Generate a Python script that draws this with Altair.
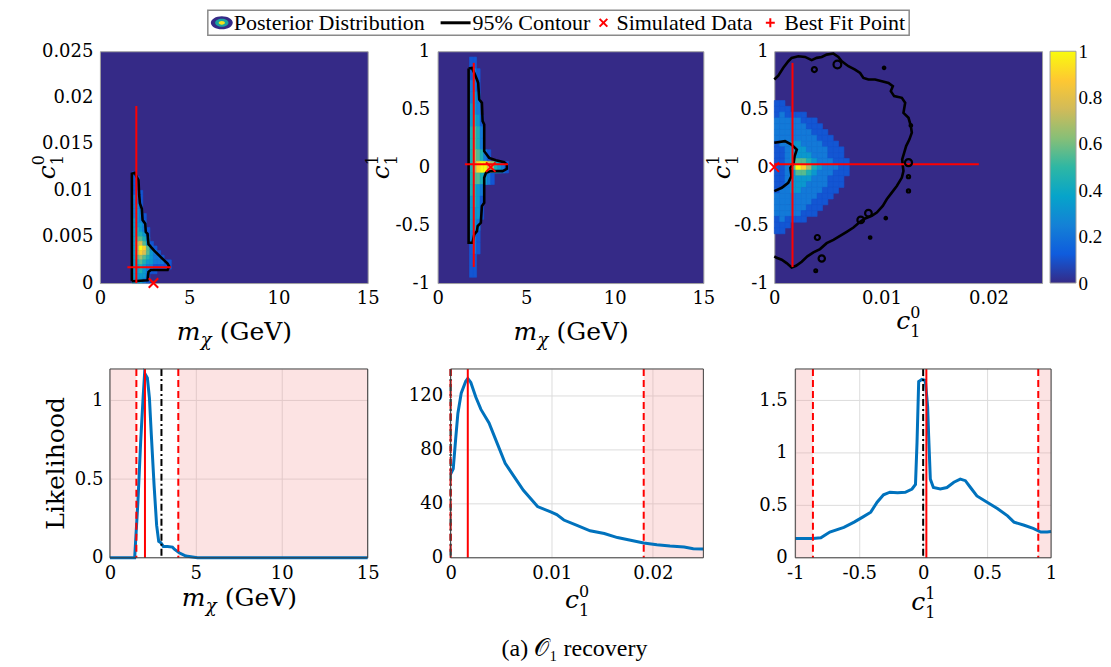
import altair as alt
import pandas as pd

FONT = "DejaVu Serif"
LFONT = "Liberation Serif"
TXT = "#000000"
PARULA = ["#352a87", "#0f5cdd", "#1481d6", "#06a4ca", "#2eb7a4",
          "#87bf77", "#d1bb59", "#fec832", "#f9fb0e"]
PSTOPS = [0.0, 0.125, 0.25, 0.375, 0.5, 0.625, 0.75, 0.875, 1.0]
RED = "#ff0000"
BLUE = "#0072bd"
PINK = "#f39a9a"

# ---------------- values ----------------
M_BEST, M_LO, M_HI, M_TRUE = 2.04, 1.54, 3.98, 3.0
C0_BEST, C0_LO, C0_HI, C0_TRUE = 0.0017, 0.0, 0.0191, 0.0
C1_BEST, C1_LO, C1_HI, C1_TRUE = 0.025, -0.862, 0.9, 0.0

M_DOMAIN = [0, 15]
C0_DOMAIN = [0, 0.025]
C1_DOMAIN = [-1, 1]
M_TICKS = [0, 5, 10, 15]
C0_TICKS_Y = [0, 0.005, 0.01, 0.015, 0.02, 0.025]
C0_TICKS_X = [0, 0.01, 0.02]
C1_TICKS = [-1, -0.5, 0, 0.5, 1]
CB_TICKS = [0, 0.2, 0.4, 0.6, 0.8, 1]
LM_TICKS = [0, 0.5, 1]
LC0_TICKS = [0, 40, 80, 120]
LC1_TICKS = [0, 0.5, 1, 1.5]
LM_MAX, LC0_MAX, LC1_MAX = 1.2, 140, 1.8

# posterior maps, digit d = density d/9 (rows top -> bottom)
HM1_X0, HM1_DX, HM1_YTOP, HM1_DY = 1.8, 0.2, 0.012, 0.0005
HM1 = ["10000000000", "11000000000", "11000000000", "11000000000",
       "12100000000", "22100000000", "22100000000", "23100000000",
       "23200000000", "23210000000", "33210000000", "33320000000",
       "34321000000", "34431000000", "35542000000", "36753100000",
       "36985210000", "36875321000", "35654322100", "34543322211",
       "33432211111", "33432110000", "33331000000", "33321000000"]
HM2_X0, HM2_DX, HM2_YTOP, HM2_DY = 1.8, 0.2, 0.95, 0.1
HM2 = ["11000000000", "12100000000", "22100000000", "23200000000",
       "33200000000", "34310000000", "45420000000", "45420000000",
       "46542100000", "46899764321", "45543210000", "44320000000",
       "34310000000", "33310000000", "33200000000", "22100000000",
       "12100000000", "11000000000", "11000000000"]
HM3_X0, HM3_DX, HM3_YTOP, HM3_DY = 0.0, 0.0005, 0.575, 0.05
HM3 = ["11000000000000", "11100000000000", "12111100000000", "22222111000000",
       "22222211100000", "22222221110000", "22222222111000", "12233222211100",
       "11233322221110", "11233332221110", "11235543222111", "11259864322211",
       "11235543222111", "11233332221110", "11233322221110", "12233222211100",
       "22222222111000", "22222221110000", "22222211100000", "22222111000000",
       "12111100000000", "11100000000000", "11000000000000"]

# 95% contours
CT1_M = [1.79, 1.79, 1.95, 2.05, 2.16, 2.2, 2.24, 2.35, 2.39, 2.54, 2.57, 2.67,
         2.72, 3.04, 3.41, 3.79, 3.88, 3.79, 2.85, 2.72, 2.67, 1.83, 1.79]
CT1_C0 = [0.0002, 0.0118, 0.0119, 0.0115, 0.0111, 0.0095, 0.0086, 0.008, 0.0068,
          0.0064, 0.0055, 0.0053, 0.0042, 0.0035, 0.0028, 0.0021, 0.0018, 0.0014,
          0.0014, 0.0012, 0.0003, 0.0002, 0.0002]
CT2_M = [1.75, 1.94, 2.07, 2.22, 2.29, 2.35, 2.5, 2.54, 2.63, 2.63, 2.91, 3.29, 3.76,
         3.91, 3.91, 3.67, 3.0, 2.73, 2.63, 2.63, 2.5, 2.44, 2.26, 2.22, 2.07, 1.97,
         1.75, 1.75]
CT2_C1 = [0.851, 0.856, 0.813, 0.756, 0.727, 0.583, 0.555, 0.397, 0.368, 0.138, 0.08,
          0.06, 0.043, 0.023, -0.014, -0.034, -0.034, -0.049, -0.092, -0.307, -0.336,
          -0.48, -0.509, -0.552, -0.58, -0.652, -0.652, 0.851]
CT3_C0 = [0, 0.00037, 0.00084, 0.00131, 0.00162, 0.00224, 0.00287, 0.00349, 0.00396,
          0.00443, 0.00489, 0.00552, 0.00598, 0.0063, 0.00692, 0.00754, 0.00801,
          0.00832, 0.00879, 0.00941, 0.01004, 0.01066, 0.01107, 0.01088, 0.01119,
          0.01191, 0.01222, 0.01206, 0.01253, 0.01275, 0.01284, 0.01262, 0.01231,
          0.01213, 0.01194, 0.012, 0.01206, 0.01191, 0.01144, 0.01097, 0.0105,
          0.01013, 0.00957, 0.0091, 0.00848, 0.00801, 0.00739, 0.00676, 0.00614,
          0.00552, 0.00489, 0.00427, 0.00365, 0.00309, 0.00256, 0.00203, 0.00162,
          0.00115, 0.00069, 0.00022, 0]
CT3_C1 = [0.756, 0.79, 0.857, 0.914, 0.943, 0.957, 0.951, 0.923, 0.943, 0.951, 0.971,
          0.98, 0.951, 0.914, 0.871, 0.842, 0.813, 0.77, 0.756, 0.756, 0.742, 0.727,
          0.699, 0.656, 0.613, 0.598, 0.555, 0.469, 0.426, 0.354, 0.297, 0.24, 0.182,
          0.125, 0.067, 0.01, -0.033, -0.09, -0.162, -0.22, -0.277, -0.334, -0.392,
          -0.42, -0.443, -0.472, -0.521, -0.558, -0.593, -0.627, -0.656, -0.707,
          -0.736, -0.77, -0.816, -0.851, -0.865, -0.828, -0.799, -0.782, -0.77]
CT3B_C0 = [0.0, 0.001, 0.0016, 0.0021, 0.0019, 0.0018, 0.0015, 0.0016, 0.0013,
           0.0007, 0.0]
CT3B_C1 = [0.21, 0.224, 0.195, 0.152, 0.095, 0.037, -0.006, -0.078, -0.135,
           -0.178, -0.207]
ISL_C0 = [0.00374, 0.00589, 0.01025, 0.01275, 0.01253, 0.01253, 0.01253, 0.00807,
          0.00879, 0.01041, 0.00895, 0.00402, 0.00443, 0.00387]
ISL_C1 = [0.842, 0.885, 0.857, 0.36, 0.039, -0.082, -0.205, -0.455, -0.397, -0.44,
          -0.607, -0.607, -0.788, -0.894]
ISL_S = [25, 60, 6, 6, 50, 10, 10, 45, 45, 6, 6, 25, 40, 8]

# 1-D likelihoods
LM_X = [0, 1.44, 1.63, 1.79, 1.93, 2.02, 2.18, 2.3, 2.41, 2.57, 2.72, 2.84, 2.96,
        3.11, 3.35, 3.64, 3.77, 4.03, 4.42, 5.1, 15]
LM_Y = [0, 0, 0.355, 0.738, 1.015, 1.174, 1.143, 1.015, 0.781, 0.462, 0.206, 0.104,
        0.096, 0.072, 0.072, 0.068, 0.053, 0.032, 0.011, 0, 0]
LC0_X = [0, 0.00026, 0.0005, 0.00072, 0.00105, 0.0015, 0.0017, 0.002, 0.0025, 0.003,
         0.0038, 0.0046, 0.0054, 0.0063, 0.0072, 0.0086, 0.0099, 0.0105, 0.0112,
         0.0125, 0.0138, 0.0152, 0.0165, 0.0178, 0.0191, 0.0204, 0.0217, 0.0231,
         0.024, 0.025]
LC0_Y = [62, 66, 88, 107, 122, 131, 133, 130, 119, 110, 100, 85, 70, 60, 50, 38, 34,
         32, 28, 24, 20, 18, 15, 13, 11, 9.7, 8.7, 8, 6.7, 6.5]
LC1_X = [-1, -0.862, -0.8, -0.73, -0.62, -0.54, -0.47, -0.41, -0.36, -0.31, -0.26,
         -0.2, -0.14, -0.087, -0.06, -0.048, -0.035, -0.01, 0.017, 0.035, 0.043, 0.056,
         0.08, 0.134, 0.186, 0.24, 0.29, 0.33, 0.37, 0.42, 0.5, 0.58, 0.66, 0.71, 0.79,
         0.86, 0.92, 0.97, 1]
LC1_Y = [0.183, 0.183, 0.19, 0.246, 0.29, 0.34, 0.39, 0.435, 0.53, 0.6, 0.625, 0.62,
         0.625, 0.656, 0.7, 1.1, 1.68, 1.7, 1.69, 1.44, 1.16, 0.75, 0.67, 0.656, 0.67,
         0.72, 0.75, 0.735, 0.67, 0.59, 0.53, 0.47, 0.4, 0.34, 0.31, 0.28, 0.246, 0.246,
         0.25]

LEGEND_LABELS = ["Posterior Distribution", "95% Contour", "Simulated Data", "Best Fit Point"]
CAPTION = "(a)  \U0001D4AA\u2081 recovery"

# ---------------- helpers ----------------
LBL = "datum.value < 0 ? '-' + format(-datum.value, '~g') : format(datum.value, '~g')"
XPATH = "M-1,-1L1,1M-1,1L1,-1"
PPATH = "M-1,0L1,0M0,-1L0,1"
ELL = "M-1,0A1,0.6,0,1,1,1,0A1,0.6,0,1,1,-1,0Z"
CSCALE = alt.Scale(domain=PSTOPS, range=PARULA, interpolate="rgb", clamp=True)
ONE = pd.DataFrame({"a": [0]})


def axis(values, grid=False, lpad=7, orient=None, offset=None, font=FONT, size=18):
    kw = dict(title="", values=values, grid=grid, ticks=False, domain=False,
              labelFont=font, labelFontSize=size, labelColor=TXT, labelPadding=lpad,
              labelExpr=LBL, labelFlush=False, labelOverlap=False)
    if grid:
        kw.update(gridColor="#dcdcdc", gridWidth=1)
    if orient is not None:
        kw["orient"] = orient
    if offset is not None:
        kw["offset"] = offset
    return alt.Axis(**kw)


def X(field, dom, ax, rng=None):
    sc = alt.Scale(domain=dom, nice=False, zero=False) if rng is None else \
        alt.Scale(domain=dom, nice=False, zero=False, range=rng)
    return alt.X(field, type="quantitative", scale=sc, axis=ax)


def Y(field, dom, ax):
    return alt.Y(field, type="quantitative", scale=alt.Scale(domain=dom, nice=False, zero=False), axis=ax)


def cells(rows, x0, dx, ytop, dy):
    recs = []
    for i, row in enumerate(rows):
        for j, ch in enumerate(row):
            d = int(ch)
            if d > 0:
                recs.append(dict(x=x0 + j * dx, x2=x0 + (j + 1) * dx,
                                 y=ytop - (i + 1) * dy, y2=ytop - i * dy, v=d / 9))
    return pd.DataFrame(recs)


def poly(xs, ys, g=0):
    return pd.DataFrame({"x": xs, "y": ys, "i": list(range(len(xs))), "g": [g] * len(xs)})


def tmark(s, x, y, size, italic=False, angle=0, align="left", font=FONT, baseline="alphabetic"):
    kw = dict(text=s, font=font, fontSize=size, align=align, baseline=baseline, color=TXT)
    if italic:
        kw["fontStyle"] = "italic"
    if angle:
        kw["angle"] = angle
    return alt.Chart(ONE).mark_text(**kw).encode(x=alt.value(x), y=alt.value(y))


def m_title(cx, y, size=25):
    x0 = cx - 57
    return [tmark("m", x0, y, size, italic=True),
            tmark("\u03c7", x0 + 24, y + 6, 18, italic=True),
            tmark("(GeV)", x0 + 43, y, size)]


def c_title(k, x, y, rot=False, size=25, ss=16):
    if not rot:
        return [tmark("c", x, y, size, italic=True),
                tmark(k, x + 14, y - 11, ss),
                tmark("1", x + 14, y + 8, ss)]
    return [tmark("c", x, y, size, italic=True, angle=270),
            tmark(k, x - 11, y - 14, ss, angle=270),
            tmark("1", x + 8, y - 14, ss, angle=270)]


GRAD = alt.Gradient(gradient="linear",
                    stops=[alt.GradientStop(color=c, offset=o) for c, o in zip(PARULA, PSTOPS)],
                    x1=0, x2=0, y1=1, y2=0)


def heat_panel(hm, ctr, xdom, ydom, xax, yax, best, xint, yint, truth, w, h, extra=(), cbar=False):
    bx, by = best
    df = cells(*hm)
    layers = [
        alt.Chart(df).mark_rect(strokeWidth=0.6).encode(
            x=X("x", xdom, xax), x2="x2", y=Y("y", ydom, yax), y2="y2",
            color=alt.Color("v:Q", scale=CSCALE, legend=None),
            stroke=alt.Color("v:Q", scale=CSCALE, legend=None)),
        alt.Chart(ctr).mark_line(color="black", strokeWidth=2.6).encode(
            x=X("x", xdom, xax), y=Y("y", ydom, yax), order="i:Q", detail="g:N"),
        alt.Chart(pd.DataFrame({"x": [bx], "y": [yint[0]], "y2": [yint[1]]})).mark_rule(
            color=RED, strokeWidth=2).encode(x=X("x", xdom, xax), y=Y("y", ydom, yax), y2="y2"),
        alt.Chart(pd.DataFrame({"y": [by], "x": [xint[0]], "x2": [xint[1]]})).mark_rule(
            color=RED, strokeWidth=2).encode(x=X("x", xdom, xax), x2="x2", y=Y("y", ydom, yax)),
        alt.Chart(pd.DataFrame({"x": [truth[0]], "y": [truth[1]]})).mark_point(
            shape=XPATH, color=RED, size=90, strokeWidth=2, filled=False, opacity=1).encode(
            x=X("x", xdom, xax), y=Y("y", ydom, yax)),
    ]
    layers += list(extra)
    ch = alt.layer(*layers)
    if cbar:
        cb = alt.Chart(pd.DataFrame({"lo": [0.0], "hi": [1.0]})).mark_rect(
            fill=GRAD, stroke="#a0a0a0", strokeWidth=1).encode(
            x=alt.value(w + 8), x2=alt.value(w + 34),
            y=alt.Y("lo:Q", scale=alt.Scale(domain=[0, 1], nice=False),
                    axis=axis(CB_TICKS, lpad=2, orient="right", offset=34, font=LFONT, size=19)),
            y2="hi")
        ch = alt.layer(ch, cb).resolve_scale(y="independent")
    return ch.properties(
        width=w, height=h,
        view=alt.ViewBackground(fill=PARULA[0], stroke="#a0a0a0", strokeWidth=1))


def like_panel(xs, ys, xdom, ydom, xticks, yticks, ylpad, shades, lo, hi, best, truth,
               off, w, h, extra=()):
    rng = [off, w]
    xax = axis(xticks, grid=True, lpad=7)
    yax = axis(yticks, grid=False, lpad=ylpad, offset=-off)
    sh = pd.DataFrame({"x": [s[0] for s in shades], "x2": [s[1] for s in shades]})
    layers = [
        alt.Chart(pd.DataFrame({"y": yticks})).mark_rule(color="#dcdcdc", strokeWidth=1).encode(
            y=Y("y", ydom, yax), x=alt.value(off), x2=alt.value(w)),
        alt.Chart(sh).mark_rect(color=PINK, opacity=0.28).encode(
            x=X("x", xdom, xax, rng), x2="x2"),
        alt.Chart(pd.DataFrame({"x": xs, "y": ys})).mark_line(
            color=BLUE, strokeWidth=3).encode(x=X("x", xdom, xax, rng), y=Y("y", ydom, yax)),
        alt.Chart(pd.DataFrame({"x": [truth]})).mark_rule(
            color="black", strokeWidth=2, strokeDash=[7, 3, 2, 3]).encode(x=X("x", xdom, xax, rng)),
        alt.Chart(pd.DataFrame({"x": [lo, hi]})).mark_rule(
            color=RED, strokeWidth=2, strokeDash=[7, 4]).encode(x=X("x", xdom, xax, rng)),
        alt.Chart(pd.DataFrame({"x": [best]})).mark_rule(
            color=RED, strokeWidth=2).encode(x=X("x", xdom, xax, rng)),
        alt.Chart(ONE).mark_rect(fillOpacity=0, stroke="#3c3c3c", strokeWidth=1).encode(
            x=alt.value(off), x2=alt.value(w), y=alt.value(0), y2=alt.value(h)),
    ]
    layers += list(extra)
    return alt.layer(*layers).properties(width=w, height=h)


def spacer(w, h):
    return alt.Chart(ONE).mark_point(opacity=0, size=1).encode(
        x=alt.value(0), y=alt.value(0)).properties(width=w, height=h)


def sym(shape, x, y, size, color, filled=False, sw=2):
    return alt.Chart(ONE).mark_point(shape=shape, size=size, color=color, filled=filled,
                                     strokeWidth=sw, opacity=1).encode(
        x=alt.value(x), y=alt.value(y))


# ---------------- layout (page pixels) ----------------
W1, W2, W3, H1 = 268, 266, 268, 232
H2 = 189
P1X, P1Y = 99, 49
P2X, P2Y = 437, 49
P5X, P5Y = 437, 367
OFF4, OFF5, OFF6 = 10, 13, 21       # bottom panels start this far right of the top ones
W4, W5, W6 = 268, 266, 277          # cell widths of bottom panels (plot = OFF..W)

LT, LB_ = 8 - P2Y, 33 - P2Y
LYC = (LT + LB_) / 2
legend_layers = [
    alt.Chart(ONE).mark_rect(fill="white", stroke="#8a8a8a", strokeWidth=1.5).encode(
        x=alt.value(207 - P2X), x2=alt.value(909 - P2X), y=alt.value(LT), y2=alt.value(LB_)),
    sym(ELL, 221 - P2X, LYC, 480, PARULA[0], filled=True, sw=0),
    sym(ELL, 221 - P2X, LYC, 180, "#1aa3a0", filled=True, sw=0),
    sym(ELL, 221 - P2X, LYC, 40, "#f9e21a", filled=True, sw=0),
    tmark(LEGEND_LABELS[0], 233 - P2X, LYC, 22, font=LFONT, baseline="middle"),
    alt.Chart(ONE).mark_rule(color="black", strokeWidth=3).encode(
        x=alt.value(440 - P2X), x2=alt.value(470 - P2X), y=alt.value(LYC)),
    tmark(LEGEND_LABELS[1], 472 - P2X, LYC, 22, font=LFONT, baseline="middle"),
    sym(XPATH, 603 - P2X, LYC, 60, RED),
    tmark(LEGEND_LABELS[2], 616 - P2X, LYC, 22, font=LFONT, baseline="middle"),
    sym(PPATH, 770 - P2X, LYC, 80, RED),
    tmark(LEGEND_LABELS[3], 784 - P2X, LYC, 22, font=LFONT, baseline="middle"),
]

anchor = alt.Chart(ONE).mark_point(opacity=0, size=1).encode(
    x=alt.value(8 - P1X), y=alt.value(8 - P1Y))

p1 = heat_panel((HM1, HM1_X0, HM1_DX, HM1_YTOP, HM1_DY), poly(CT1_M, CT1_C0),
                M_DOMAIN, C0_DOMAIN, axis(M_TICKS, lpad=6), axis(C0_TICKS_Y, lpad=7),
                (M_BEST, C0_BEST), (M_LO, M_HI), (C0_LO, C0_HI), (M_TRUE, C0_TRUE),
                W1, H1, extra=[anchor] + m_title(W1 / 2, 289) + c_title("0", -45, 128, rot=True))
p2 = heat_panel((HM2, HM2_X0, HM2_DX, HM2_YTOP, HM2_DY), poly(CT2_M, CT2_C1),
                M_DOMAIN, C1_DOMAIN, axis(M_TICKS, lpad=6), axis(C1_TICKS, lpad=8),
                (M_BEST, C1_BEST), (M_LO, M_HI), (C1_LO, C1_HI), (M_TRUE, C1_TRUE),
                W2, H1, extra=legend_layers + m_title(W2 / 2, 289) + c_title("1", -49, 128, rot=True))
ct3 = pd.concat([poly(CT3_C0, CT3_C1, 0), poly(CT3B_C0, CT3B_C1, 1)], ignore_index=True)
ax3x, ax3y = axis(C0_TICKS_X, lpad=6), axis(C1_TICKS, lpad=6)
isl = alt.Chart(pd.DataFrame({"x": ISL_C0, "y": ISL_C1, "s": ISL_S})).mark_point(
    shape="circle", filled=False, color="black", strokeWidth=2.2, opacity=1).encode(
    x=X("x", C0_DOMAIN, ax3x), y=Y("y", C1_DOMAIN, ax3y),
    size=alt.Size("s:Q", scale=None, legend=None))
p3 = heat_panel((HM3, HM3_X0, HM3_DX, HM3_YTOP, HM3_DY), ct3,
                C0_DOMAIN, C1_DOMAIN, ax3x, ax3y,
                (C0_BEST, C1_BEST), (C0_LO, C0_HI), (C1_LO, C1_HI), (C0_TRUE, C1_TRUE),
                W3, H1, extra=[isl] + c_title("0", W3 / 2 - 12, 278) + c_title("1", -44, 128, rot=True),
                cbar=True)

p4 = like_panel(LM_X, LM_Y, M_DOMAIN, [0, LM_MAX], M_TICKS, LM_TICKS, 7,
                [(M_DOMAIN[0], M_LO), (M_HI, M_DOMAIN[1])], M_LO, M_HI, M_BEST, M_TRUE,
                OFF4, W4, H2,
                extra=m_title((OFF4 + W4) / 2, 237) +
                [tmark("Likelihood", OFF4 - 46, H2 / 2, 25, angle=270, align="center")])
caption = tmark(CAPTION, 574 - P5X, 647 - P5Y, 24, align="center", font=LFONT, baseline="middle")
p5 = like_panel(LC0_X, LC0_Y, C0_DOMAIN, [0, LC0_MAX], C0_TICKS_X, LC0_TICKS, 8,
                [(C0_HI, C0_DOMAIN[1])], C0_LO, C0_HI, C0_BEST, C0_TRUE,
                OFF5, W5, H2, extra=[caption] + c_title("0", (OFF5 + W5) / 2 - 12, 239))
p6 = like_panel(LC1_X, LC1_Y, C1_DOMAIN, [0, LC1_MAX], C1_TICKS, LC1_TICKS, 8,
                [(C1_DOMAIN[0], C1_LO), (C1_HI, C1_DOMAIN[1])], C1_LO, C1_HI, C1_BEST, C1_TRUE,
                OFF6, W6, H2, extra=c_title("1", (OFF6 + W6) / 2 - 12, 241))

row1 = [p1, spacer(70, H1), p2, spacer(71, H1), p3]
row2 = [p4, spacer(70, H2), p5, spacer(71, H2), p6]

chart = alt.concat(*row1, *row2, columns=5, spacing={"row": 86, "column": 0},
                   align="each", bounds="flush").properties(
    padding={"left": 0, "top": 0, "right": 0, "bottom": 0}, background="white"
).configure_view(stroke="transparent")

chart.save("out.html", embed_options={"renderer": "svg", "actions": False})
